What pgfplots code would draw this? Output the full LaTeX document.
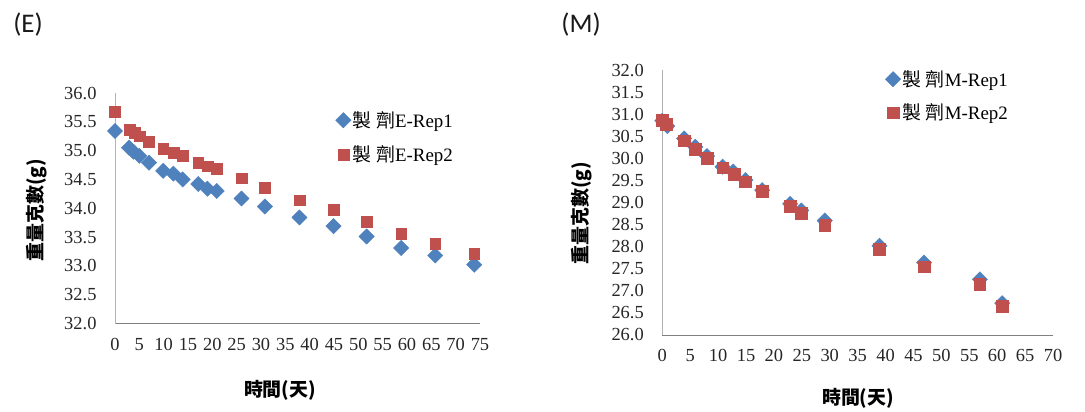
\documentclass[border=0pt]{standalone}
\usepackage{fontspec}
\setmainfont{Liberation Serif}
\newfontfamily\cjk{Noto Sans CJK TC}
\newfontfamily\calfont{Carlito}
\usepackage{pgfplots}
\pgfplotsset{compat=1.18}
\definecolor{exblue}{HTML}{4F81BD}
\definecolor{exred}{HTML}{C0504D}
\pgfplotsset{
 exstyle/.style={
  scale only axis, clip=false,
  axis x line*=bottom, axis y line*=left,
  x axis line style={-, draw=black!50, line width=0.8bp},
  y axis line style={-, draw=black!30, line width=0.8bp},
  major tick length=0pt, tick style={draw=none},
  /pgf/number format/assume math mode=true,
  ticklabel style={font=\fontsize{18.5}{20}\selectfont, text=black!85},
  xticklabel style={yshift=-11bp},
  yticklabel style={xshift=-15bp},
  y tick label style={/pgf/number format/fixed,/pgf/number format/fixed zerofill,/pgf/number format/precision=1},
  label style={font=\cjk\bfseries\fontsize{19}{21}\selectfont, anchor=center},
  legend style={draw=none, fill=none, font=\fontsize{19}{21}\selectfont, anchor=west},
  legend cell align=left,
 },
 dia/.style={only marks, mark=square*, mark size=5.4bp, mark options={rotate=45, fill=exblue, draw=exblue}},
 sq/.style={only marks, mark=square*, mark size=#1, mark options={fill=exred, draw=exred}},
}
\begin{document}
\begin{tikzpicture}
\path[use as bounding box] (0bp,0bp) rectangle (1085bp,412bp);
\node[font=\calfont\fontsize{27}{30}\selectfont, text=black!90] at (28bp,387bp) {(E)};
\node[font=\calfont\fontsize{27}{30}\selectfont, text=black!90] at (581bp,387bp) {(M)};
\begin{axis}[exstyle, at={(115bp,88.5bp)}, anchor=south west, width=365bp, height=230.5bp,
  xmin=0, xmax=75, ymin=32, ymax=36,
  xtick={0,5,...,75}, ytick={32,32.5,...,36},
  xlabel={時間(天)}, ylabel={重量克數(g)},
  xlabel style={at={(axis description cs:0.452,-0.289)}},
  ylabel style={at={(axis description cs:-0.214,0.492)}},
  legend style={at={(rel axis cs:0.596,0.807)}, row sep=13bp},
]
\addplot[dia] coordinates {
(0,35.34) (2.9,35.05) (3.8,34.98) (5,34.91) (7,34.79) (9.9,34.65) (12,34.60) (13.9,34.50)
(17.1,34.42) (19,34.34) (20.9,34.30) (26,34.17) (30.8,34.03) (37.9,33.84) (44.9,33.69)
(51.7,33.51) (58.8,33.31) (65.8,33.18) (73.8,33.02)};
\addlegendentry{{\cjk 製 劑}E-Rep1}
\addplot[sq=5.4bp] coordinates {
(0,35.67) (3.1,35.36) (4.1,35.31) (5.1,35.25) (7,35.15) (9.9,35.03) (12,34.97) (13.9,34.91)
(17.1,34.79) (19,34.73) (20.9,34.68) (26,34.52) (30.8,34.36) (37.9,34.14) (44.9,33.97)
(51.7,33.77) (58.8,33.56) (65.8,33.38) (73.8,33.21)};
\addlegendentry{{\cjk 製 劑}E-Rep2}
\end{axis}
\begin{axis}[exstyle, at={(662.3bp,77bp)}, anchor=south west, width=390.7bp, height=265bp,
  xmin=0, xmax=70, ymin=26, ymax=32,
  xtick={0,5,...,70}, ytick={26,26.5,...,32},
  xlabel={時間(天)}, ylabel={重量克數(g)},
  xlabel style={at={(axis description cs:0.501,-0.238)}},
  ylabel style={at={(axis description cs:-0.206,0.46)}},
  legend style={at={(rel axis cs:0.563,0.902)}, row sep=12bp},
]
\addplot[dia] coordinates {
(0,30.85) (0.9,30.73) (3.9,30.45) (5.9,30.26) (8.0,30.05) (10.8,29.81) (12.7,29.70) (14.9,29.51)
(17.9,29.28) (22.9,28.97) (24.9,28.82) (29.1,28.59) (38.9,28.02) (46.9,27.64) (56.9,27.26) (60.9,26.72)};
\addlegendentry{{\cjk 製 劑}M-Rep1}
\addplot[sq=5.8bp] coordinates {
(0,30.87) (0.7,30.77) (3.9,30.40) (5.9,30.21) (8.0,30.00) (10.8,29.79) (12.9,29.64) (14.9,29.47)
(17.9,29.26) (22.9,28.91) (24.9,28.76) (29.1,28.49) (38.9,27.94) (46.9,27.55) (56.9,27.15) (60.9,26.65)};
\addlegendentry{{\cjk 製 劑}M-Rep2}
\end{axis}
\end{tikzpicture}
\end{document}
